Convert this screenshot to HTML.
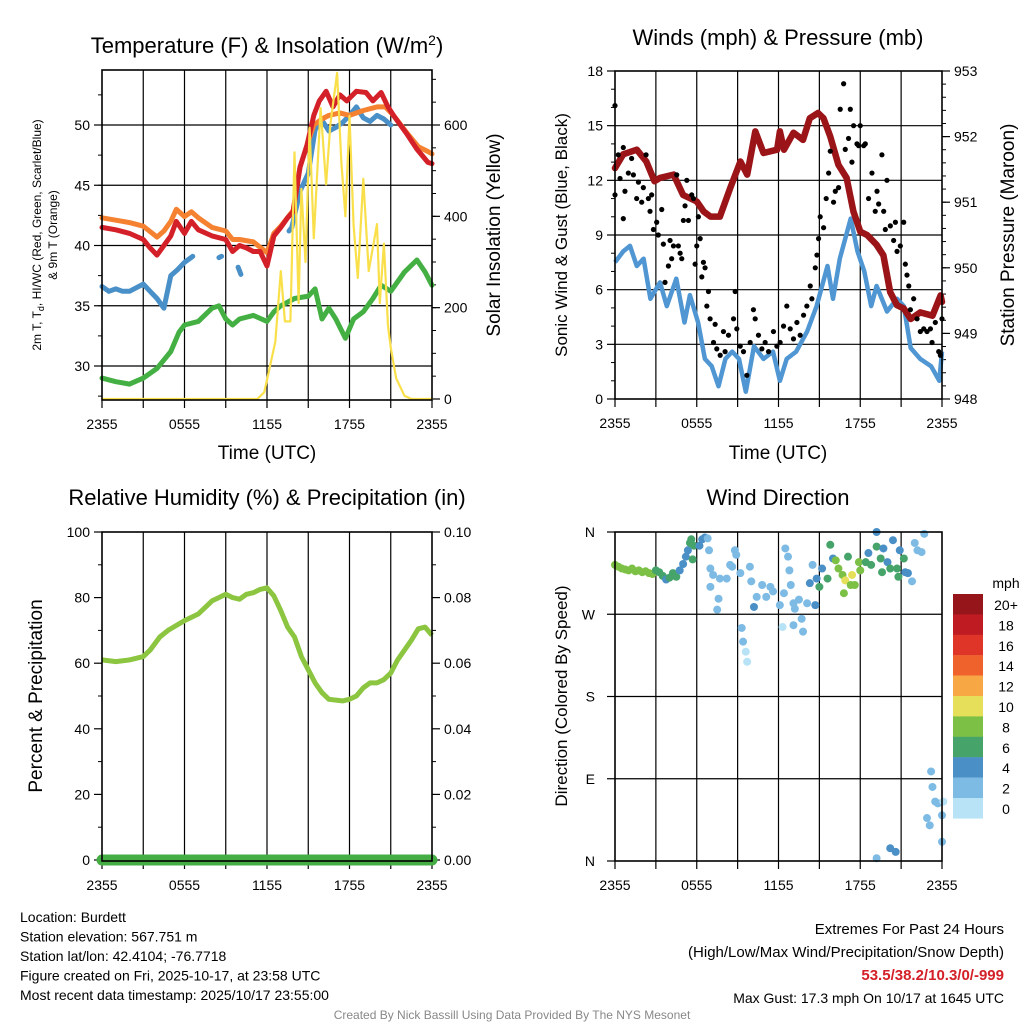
<!DOCTYPE html>
<html><head><meta charset="utf-8"><style>
body{margin:0;background:#fff;width:1024px;height:1024px;overflow:hidden;font-family:"Liberation Sans",Arial,sans-serif}
svg{display:block}
</style></head><body>
<svg id="c" width="1024" height="1024" viewBox="0 0 1024 1024" xmlns="http://www.w3.org/2000/svg" font-family="Liberation Sans, Arial, sans-serif"></svg>
<script>
// ---------- DATA ----------
const xTickHours=[0,6,12,18,24];
const xTickLabels=["2355","0555","1155","1755","2355"];
// Temperature panel
const tempHours=[0,1,2,3,3.5,4,4.5,5,5.4,6,6.5,7,8,9,9.5,10,10.5,11,11.5,12,12.5,13,13.5,13.9,14.4,14.9,15.4,15.8,16.3,16.8,17.3,17.8,18.5,19.2,19.7,20.3,20.8,21.2,22.2,22.9,23.7,24];
const tempValues=[41.5,41.3,41,40.5,39.8,39.2,40,40.8,42,41,42,41.3,40.8,40.5,39.5,40,39.8,39.5,39.5,38.3,40.8,41.5,42.3,42.8,46.5,48.3,50.8,52,52.8,51.5,52.5,52,52.8,52.7,52,52.7,51.5,50.8,49.2,48,46.9,46.8];
const hiHours=[0,1,2,3,4,4.5,5,5.4,6,6.5,7,8,9,9.5,10,11,12,12.5,13,13.9,14.4,14.9,15.4,16,16.5,17.3,18,19,20,20.6,21.2,22.2,23,23.7,24];
const hiValues=[42.3,42.1,41.9,41.6,40.7,41.2,42,43,42.4,42.8,42.3,41.5,41.2,40.5,40.5,40.3,39.4,41,41.6,42.9,46.5,48.3,50,50.5,50.8,51,50.8,51.2,51.5,51.5,50.8,49.3,48.2,47.8,47.6];
const tdHours=[0,0.5,1,1.5,2,2.5,3,3.5,4,4.5,5,5.5,6,6.6,6.7,8.5,8.7,8.8,9.9,10.1,10.2,13.6,13.8,14.4,15,15.5,16,16.5,17,17.5,18,18.5,19,19.5,20,20.5,21];
const tdValues=[36.6,36.2,36.4,36.2,36.2,36.5,36.8,36.2,35.6,34.8,37.5,38,38.6,39.1,null,39,39.1,null,38.2,37.6,null,41.2,41.5,44.5,46,49.6,50.4,49.5,49.8,50.2,50.8,51.5,50.6,50.3,50.8,50.5,50];
const hiwcHours=[0,1,2,3,4,5,5.6,6,7,8,8.5,9,9.5,10,11,12,12.5,13,14,15,15.5,16,16.5,17,17.7,18.3,19,19.7,20.3,21,22,22.9,23.5,24];
const hiwcValues=[29,28.7,28.5,29,29.8,31.2,32.8,33.4,33.7,34.8,35,33.9,33.4,33.9,34.2,33.7,34.5,35,35.6,35.8,36.4,33.9,34.8,33.9,32.3,33.9,34.5,35.6,36.7,36.2,37.8,38.8,37.8,36.7];
const solarHours=[0,11.3,11.8,12.2,12.6,13.0,13.3,13.7,14.0,14.3,14.5,14.8,15.1,15.4,15.9,16.3,16.6,17.1,17.4,17.7,18.0,18.3,18.6,19.0,19.4,20.0,20.2,20.5,20.8,21.0,21.4,22.0,22.5,24];
const solarValues=[0,0,15,70,125,280,170,170,540,210,460,300,594,352,637,470,600,714,520,400,620,380,265,482,280,383,210,340,160,112,45,7,0,0];
const tempTicks=[30,35,40,45,50];
const solarTicks=[0,200,400,600];
// Wind panel
const windHours=[0,0.6,1.1,1.6,2.1,2.6,3.3,3.8,4.5,5.1,5.5,6.1,6.6,7.1,7.6,8.1,8.6,9.1,9.6,10.2,10.9,11.6,12.1,12.6,13.3,14.1,14.8,15.6,16.0,16.5,17.3,17.8,18.3,18.8,19.2,19.96,20.7,21.2,21.7,22.4,23.2,23.8,24];
const windValues=[7.5,8.1,8.4,7.3,7.7,5.5,6.4,5.1,6.6,4.2,5.7,4.2,2.2,1.8,0.7,2.2,2.6,2.2,0.4,2.9,2.2,2.6,1.0,2.2,2.6,3.7,5.1,7.3,5.5,7.7,9.9,8.1,7.0,5.1,6.2,4.8,5.5,5.1,2.8,2.2,1.8,1.0,2.6];
const gustHours=[0,0,0.24,0.37,0.61,0.73,0.61,0.98,1.22,1.35,1.59,1.72,1.96,2.08,2.28,2.45,2.57,2.69,2.82,3.06,3.18,3.43,3.55,3.67,3.92,4.04,4.16,4.29,4.53,4.65,4.78,4.9,5.02,5.14,5.27,5.39,5.63,5.76,5.88,6.0,6.12,6.25,6.37,6.49,6.61,6.86,6.74,6.98,7.23,7.35,7.47,7.72,7.96,8.08,8.33,8.7,8.82,8.94,9.19,9.43,9.68,9.92,10.16,10.29,10.53,10.78,11.02,11.27,11.63,11.88,12.12,12.37,12.61,12.86,13.1,13.35,13.59,13.84,14.08,14.33,14.45,14.7,14.82,14.94,15.06,15.31,15.5,15.68,15.8,16.04,16.17,16.41,16.53,16.78,16.9,17.14,17.27,17.39,17.51,17.76,17.88,18.0,18.25,18.37,18.61,18.86,19.1,19.23,19.35,19.59,19.72,19.84,19.96,20.21,20.45,20.58,20.7,20.94,21.19,21.31,21.43,21.56,21.68,21.92,22.17,22.41,22.66,22.9,23.15,23.27,23.51,23.76,23.88,24.0];
const gustValues=[16.1,11.2,13.4,12.1,13.8,11.4,9.9,12.4,13.2,12.3,11.0,11.9,10.8,11.6,13.4,11.0,10.3,11.2,9.3,9.7,9.0,10.4,8.5,6.4,7.3,8.7,7.7,8.4,12.3,8.4,8.0,7.7,9.8,10.6,12.0,9.8,11.2,11.0,7.4,8.4,10.0,8.8,6.7,7.5,7.2,5.9,5.1,4.4,3.1,4.1,2.75,2.4,3.7,2.6,3.5,4.4,5.9,3.85,2.9,2.6,1.3,3.1,4.9,4.4,3.5,2.75,3.1,2.6,3.7,2.9,3.1,4.0,5.1,3.85,3.3,4.2,3.5,4.6,5.1,6.2,5.5,7.2,7.9,8.8,10.0,9.4,11.0,12.4,13.6,10.8,11.4,11.6,15.9,17.3,13.7,14.3,15.9,13.0,15.0,14.0,13.9,15.0,13.9,14.0,11.0,12.4,10.3,11.4,10.7,13.4,10.3,9.3,12.0,9.5,8.7,9.7,8.1,8.4,9.7,7.4,6.8,6.2,4.9,5.5,4.4,3.7,3.85,3.7,3.85,3.1,4.2,2.6,2.4,4.4];
const pressHours=[0,0.6,1.6,2.3,2.9,3.3,4.3,5.0,6.0,6.5,7.0,7.7,8.45,9.2,9.7,10.3,10.9,11.9,12.1,12.4,13.1,13.8,14.3,14.9,15.3,15.8,16.4,17.0,17.5,18.0,18.5,19.2,19.7,20.2,20.7,21.2,21.7,22.4,23.3,23.9,24];
const pressValues=[951.52,951.73,951.8,951.62,951.32,951.37,951.42,951.11,951.01,950.86,950.78,950.78,951.21,951.62,951.42,952.08,951.75,951.8,952.08,951.8,952.06,951.95,952.28,952.36,952.28,952.0,951.57,951.37,950.86,950.55,950.5,950.35,950.19,949.63,949.43,949.38,949.22,949.32,949.27,949.58,949.48];
const windTicks=[0,3,6,9,12,15,18];
const pressTicks=[948,949,950,951,952,953];
// RH panel
const rhHours=[0,1,2,3,3.5,4.2,4.8,6,7,8,9,9.5,10,10.5,11,11.5,12,12.5,13,13.5,14,14.5,15,15.5,16,16.5,17.5,18,18.5,19,19.5,20,20.5,21,21.5,22,22.5,23,23.5,24];
const rhValues=[61,60.5,61,62,64,68,70,73,75,79,81,80,79.5,81,81.5,82.5,83,80.5,76,71,68,62,58,54,51,49,48.5,49,50,52.5,54,54,55,57,61,64,67,70.5,71,68.5];
const precipHours=[0,24];
const precipValues=[0,0];
const rhTicks=[0,20,40,60,80,100];
const precipTicks=["0.00","0.02","0.04","0.06","0.08","0.10"];
// Wind direction panel
const wdHours=[0,0.25,0.5,0.75,1,1.25,1.5,1.75,2,2.25,2.5,2.75,3,3.25,3.5,3.75,4,4.25,4.5,4.75,5,5.2,5.35,5.5,5.6,5.8,5.7,6.2,6.4,6.6,6.8,6.9,7,7.2,7.0,7.6,7.5,7.7,8.2,8.45,8.8,8.9,9.2,8.6,9.9,10.0,9.3,9.4,9.6,9.7,10.2,10.4,10.8,11.1,11.4,11.6,12.1,12.3,12.4,12.5,12.7,12.8,12.9,13.1,13.2,13.5,13.1,13.7,13.8,14.1,14.5,14.3,14.7,14.8,15.2,15.0,15.6,15.8,16.0,16.2,16.4,16.7,16.8,16.9,17.1,17.4,17.3,17.6,17.9,18.0,18.4,18.6,18.8,19.2,19.2,19.5,19.6,19.7,20.0,20.2,20.4,20.7,20.9,20.8,21.2,21.3,21.5,21.8,22.0,22.2,22.5,22.7,23.2,23.3,23.5,23.7,24,22.9,23.1,24,24.1,19.2,20.2,20.6];
const wdDirs=[324,322,320,319,318,320,317,318,316,317,315,314,318,316,312,308,310,315,311,318,325,333,340,348,352,345,330,345,352,354,353,340,320,313,300,287,275,309,309,324,340,335,315,322,322,306,255,240,229,218,278,289,302,289,300,295,280,256,293,342,333,318,302,282,276,286,258,265,251,282,324,304,280,309,320,300,309,346,331,329,320,313,293,307,333,313,302,302,327,318,327,337,324,360,344,331,316,342,327,320,351,320,340,311,331,316,315,306,348,340,338,358,98,81,65,63,50,47,39,21,65,3,14,10];
const wdSpeeds=[9,9,9,9,9,9,9,9,9,9,9,9,7,7,7,5,7,7,7,5,5,5,5,7,7,7,7,5,5,5,3,3,3,3,3,3,3,3,3,3,3,3,3,3,3,3,3,3,1,1,5,3,3,3,3,3,3,1,3,3,3,3,3,3,3,3,3,3,3,3,3,5,5,5,5,7,7,7,5,9,9,9,9,11,7,11,9,9,9,9,7,5,7,5,7,7,7,5,5,7,5,7,5,7,7,5,5,3,3,3,3,3,3,3,3,3,3,3,3,3,1,3,5,5,5];
const cbLabels=["20+","18","16","14","12","10","8","6","4","2","0"];
const cbColors=["#96151a","#bf1b23","#df3528","#f0622c","#f7a744","#e6df5a","#7cc146","#46a46b","#4a8fc6","#7dbbe5","#b8e3f7"];

// ---------- DRAW ----------
const S=document.getElementById('c');
const NS="http://www.w3.org/2000/svg";
function mk(tag,attrs,parent){const e=document.createElementNS(NS,tag);for(const k in attrs)e.setAttribute(k,attrs[k]);(parent||S).appendChild(e);return e;}
function txt(x,y,s,size,anchor,parent,rot,fill,weight){const t=mk('text',{x:x,y:y,'font-size':size,'text-anchor':anchor||'middle',fill:fill||'#000'},parent);if(weight)t.setAttribute('font-weight',weight);if(rot)t.setAttribute('transform','rotate(-90 '+x+' '+y+')');t.textContent=s;return t;}
function linear(d0,d1,r0,r1){return v=>r0+(v-d0)*(r1-r0)/(d1-d0);}
function pathFrom(hs,vs,sx,sy){let d="",pen=false;for(let i=0;i<hs.length;i++){if(vs[i]===null){pen=false;continue;}d+=(pen?"L":"M")+sx(hs[i]).toFixed(1)+" "+sy(vs[i]).toFixed(1);pen=true;}return d;}
function panel(name,L,T,R,B,hgrid){
  const g=mk('g',{});
  const sx=linear(0,24,L,R);
  for(let h=3;h<24;h+=3){const l=mk('line',{x1:sx(h),x2:sx(h),y1:T,y2:B,stroke:'#000','stroke-width':1.2},g);}
  hgrid.forEach(y=>{const l=mk('line',{x1:L,x2:R,y1:y,y2:y,stroke:'#000','stroke-width':1.2},g);});
  for(let h=0;h<=24;h+=3){mk('line',{x1:sx(h),x2:sx(h),y1:B,y2:B+8,stroke:'#000','stroke-width':1.2},g);}
  xTickHours.forEach((h,i)=>{const t=txt(sx(h),B+29,xTickLabels[i],14,'middle',g);});
  return {g,sx};
}
function frame(g,L,T,R,B){const r=mk('rect',{x:L,y:T,width:R-L,height:B-T,fill:'none',stroke:'#000','stroke-width':1.6},g);}
function yticks(g,x,vals,sy,labels,side){vals.forEach((v,i)=>{const y=sy(v);const dx=side<0?-8:8;mk('line',{x1:x,x2:x+dx,y1:y,y2:y,stroke:'#000','stroke-width':1.2},g);const t=txt(x+(side<0?-12:12),y+5,labels?labels[i]:String(v),14,side<0?'end':'start',g);});}

// Panel 1: Temperature
(function(){
  const L=102,T=70,R=432,B=400;
  const sy=linear(30,50,366,125), sr=linear(0,600,399,125);
  const p=panel('temperature-panel',L,T,R,B,tempTicks.map(sy));const g=p.g,sx=p.sx;
  for(let v=27.5;v<=55;v+=2.5){const y=sy(v);if(y>T&&y<B)mk('line',{x1:L,x2:L-4,y1:y,y2:y,stroke:'#000'},g);}
  for(let v=50;v<=700;v+=50){const y=sr(v);if(y>T&&y<B)mk('line',{x1:R,x2:R+4,y1:y,y2:y,stroke:'#000'},g);}
  yticks(g,L,tempTicks,sy,null,-1);yticks(g,R,solarTicks,sr,null,1);
  const series=[['solar-line',solarHours,solarValues,sr,'#f9e04b',2.2],['hiwc-line',hiwcHours,hiwcValues,sy,'#44b044',5],['dewpoint-line',tdHours,tdValues,sy,'#4a90c8',5],['temp-9m-line',hiHours,hiValues,sy,'#f58231',5],['temp-2m-line',tempHours,tempValues,sy,'#d42028',5]];
  const order=[1,2,3,4,0];
  order.forEach(i=>{const s=series[i];const pth=mk('path',{d:pathFrom(s[1],s[2],sx,s[3]),fill:'none',stroke:s[4],'stroke-width':s[5],'stroke-linejoin':'round','stroke-linecap':'round'},g);});
  frame(g,L,T,R,B);
  const ti=mk('text',{x:267,y:53,'font-size':22,'text-anchor':'middle'},g);ti.innerHTML='Temperature (F) &amp; Insolation (W/m<tspan dy="-8" font-size="14">2</tspan><tspan dy="8">)</tspan>';
  
  const xl=txt(267,459,'Time (UTC)',19,'middle',g);
  const y1=mk('text',{x:41,y:235,'font-size':12,'text-anchor':'middle',transform:'rotate(-90 41 235)'},g);y1.innerHTML='2m T, T<tspan dy="3" font-size="9">d</tspan><tspan dy="-3">, HI/WC (Red, Green, Scarlet/Blue)</tspan>';
  
  const y2=txt(57,235,'& 9m T (Orange)',12,'middle',g,true);
  const yr=txt(500,235,'Solar Insolation (Yellow)',19,'middle',g,true);
})();

// Panel 2: Winds
(function(){
  const L=615,T=71,R=942,B=399;
  const sy=linear(0,18,399,71), sp=linear(948,953,399,71);
  const p=panel('winds-panel',L,T,R,B,windTicks.slice(1,-1).map(sy));const g=p.g,sx=p.sx;
  for(let v=1;v<18;v++){if(v%3)mk('line',{x1:L,x2:L-4,y1:sy(v),y2:sy(v),stroke:'#000'},g);}
  for(let v=948.2;v<953;v+=0.2){mk('line',{x1:R,x2:R+4,y1:sp(v),y2:sp(v),stroke:'#000'},g);}
  yticks(g,L,windTicks,sy,null,-1);yticks(g,R,pressTicks,sp,null,1);
  const w=mk('path',{d:pathFrom(windHours,windValues,sx,sy),fill:'none',stroke:'#4f96d2','stroke-width':4.5,'stroke-linejoin':'round'},g);
  const pr=mk('path',{d:pathFrom(pressHours,pressValues,sx,sp),fill:'none',stroke:'#9a1418','stroke-width':6.5,'stroke-linejoin':'round','stroke-linecap':'round'},g);
  gustHours.forEach((h,i)=>{const c=mk('circle',{cx:sx(h),cy:sy(gustValues[i]),r:2.6,fill:'#000'},g);});
  frame(g,L,T,R,B);
  const ti=txt(778,45,'Winds (mph) & Pressure (mb)',22,'middle',g);
  const xl=txt(778,459,'Time (UTC)',19,'middle',g);
  const yl=txt(567,235,'Sonic Wind & Gust (Blue, Black)',17,'middle',g,true);
  const yr=txt(1014,235,'Station Pressure (Maroon)',19,'middle',g,true);
})();

// Panel 3: RH
(function(){
  const L=102,T=532,R=432,B=861;
  const sy=linear(0,100,860,532);
  const p=panel('humidity-panel',L,T,R,B,[]);const g=p.g,sx=p.sx;
  for(let v=10;v<100;v+=20){mk('line',{x1:L,x2:L-4,y1:sy(v),y2:sy(v),stroke:'#000'},g);mk('line',{x1:R,x2:R+4,y1:sy(v),y2:sy(v),stroke:'#000'},g);}
  yticks(g,L,rhTicks,sy,null,-1);yticks(g,R,rhTicks,sy,precipTicks,1);
  const rh=mk('path',{d:pathFrom(rhHours,rhValues,sx,sy),fill:'none',stroke:'#8cc540','stroke-width':5,'stroke-linejoin':'round'},g);
  const pc=mk('path',{d:pathFrom(precipHours,precipValues,sx,sy),fill:'none',stroke:'#44ad44','stroke-width':11,'stroke-linecap':'round'},g);
  frame(g,L,T,R,B);
  const ti=txt(267,505,'Relative Humidity (%) & Precipitation (in)',22,'middle',g);
  const yl=txt(42,696,'Percent & Precipitation',19,'middle',g,true);
})();

// Panel 4: Wind Direction
(function(){
  const L=615,T=532,R=942,B=861;
  const sy=linear(0,360,861,532);
  const p=panel('wind-direction-panel',L,T,R,B,[90,180,270].map(sy));const g=p.g,sx=p.sx;
  const lab=['N','E','S','W','N'];
  [0,90,180,270,360].forEach((v,i)=>{mk('line',{x1:L,x2:L-8,y1:sy(v),y2:sy(v),stroke:'#000','stroke-width':1.2},g);const t=txt(L-20,sy(v)+5,lab[i],14,'end',g);});
  function col(s){let b=Math.floor(s/2);if(b>10)b=10;return cbColors[10-b];}
  wdHours.forEach((h,i)=>{const c=mk('circle',{cx:sx(h),cy:sy(wdDirs[i]),r:4,fill:col(wdSpeeds[i])},g);});
  frame(g,L,T,R,B);
  const ti=txt(778,505,'Wind Direction',22,'middle',g);
  const yl=txt(567,696,'Direction (Colored By Speed)',17,'middle',g,true);
  const cb=mk('g',{});
  const u=txt(1006,588,'mph',14,'middle',cb);
  cbColors.forEach((c,i)=>{const y=594+i*20.4;mk('rect',{x:953,y:y,width:30,height:20.6,fill:c},cb);const t=txt(1006,y+16,cbLabels[i],14,'middle',cb);});
})();

// Footer
const ft=mk('g',{});
["Location: Burdett","Station elevation: 567.751 m","Station lat/lon: 42.4104; -76.7718","Figure created on Fri, 2025-10-17, at 23:58 UTC","Most recent data timestamp: 2025/10/17 23:55:00"].forEach((s,i)=>{txt(20,922+i*19.5,s,14,'start',ft);});
const ex=mk('g',{});
txt(1004,934,'Extremes For Past 24 Hours',15,'end',ex);
txt(1004,957,'(High/Low/Max Wind/Precipitation/Snow Depth)',15,'end',ex);
txt(1004,980,'53.5/38.2/10.3/0/-999',15,'end',ex,false,'#d42028','bold');
txt(1004,1003,'Max Gust: 17.3 mph On 10/17 at 1645 UTC',14,'end',ex);
const cr=txt(512,1019,'Created By Nick Bassill Using Data Provided By The NYS Mesonet',12,'middle');cr.setAttribute('fill','#888');


</script>
</body></html>
